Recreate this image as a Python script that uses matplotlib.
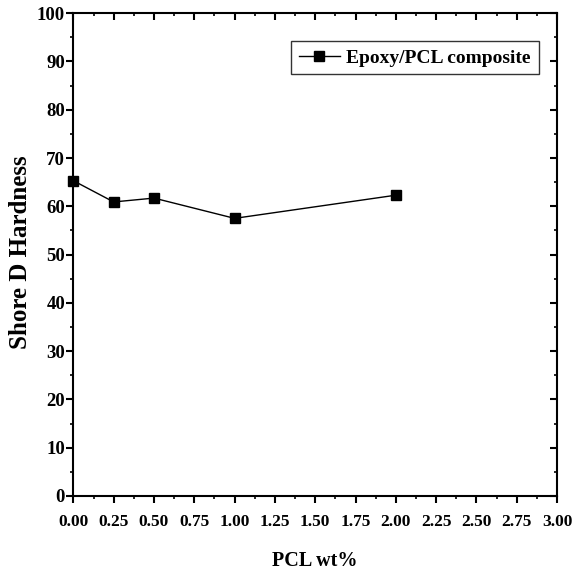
import matplotlib.pyplot as plt
from matplotlib.ticker import MultipleLocator

plt.rcParams['font.family'] = ['Liberation Serif', 'DejaVu Serif']
plt.rcParams['font.weight'] = 'bold'

# PCL content (wt%) and Shore D hardness
pcl_wt = [0.0, 0.25, 0.5, 1.0, 2.0]
hardness = [65.3, 60.9, 61.7, 57.5, 62.3]

fig = plt.figure(figsize=(5.87, 5.74), dpi=100)
ax = fig.add_axes([0.125, 0.136, 0.824, 0.841])

ax.plot(pcl_wt, hardness, color='black', lw=1.0, marker='s', ms=6.5,
        mfc='black', mec='black', label='Epoxy/PCL composite', clip_on=False)

ax.set_xlim(0, 3.0)
ax.set_ylim(0, 100)
ax.xaxis.set_major_locator(MultipleLocator(0.25))
ax.xaxis.set_minor_locator(MultipleLocator(0.125))
ax.yaxis.set_major_locator(MultipleLocator(10))
ax.yaxis.set_minor_locator(MultipleLocator(5))
ax.xaxis.set_major_formatter(plt.FormatStrFormatter('%.2f'))

for s in ax.spines.values():
    s.set_linewidth(1.5)

ax.tick_params(which='both', top=True, right=True, labeltop=False, labelright=False)
ax.tick_params(which='both', direction='out')
ax.tick_params(which='major', length=5, width=1.5, labelsize=12.5)
ax.tick_params(axis='y', which='major', labelsize=13.5, pad=1)
ax.tick_params(which='minor', length=2.5, width=1.2)
ax.tick_params(axis='x', which='major', pad=8)
# top and right ticks point inward
for t in ax.xaxis.get_major_ticks() + ax.xaxis.get_minor_ticks():
    t.tick2line.set_marker(3)
for t in ax.yaxis.get_major_ticks() + ax.yaxis.get_minor_ticks():
    t.tick2line.set_marker(0)

for lab in ax.get_xticklabels() + ax.get_yticklabels():
    lab.set_fontweight('bold')

ax.set_xlabel('PCL wt%', fontsize=14.5, fontweight='bold')
ax.set_ylabel('Shore D Hardness', fontsize=18, fontweight='bold')
ax.xaxis.set_label_coords(0.5, -0.115)
ax.yaxis.set_label_coords(-0.086, 0.504)

leg = ax.legend(loc='upper right', bbox_to_anchor=(0.962, 0.942), fontsize=14,
                frameon=True, fancybox=False, edgecolor='black', handlelength=2.1,
                borderpad=0.4, handletextpad=0.35, borderaxespad=0)
leg.get_frame().set_linewidth(1.0)
for t in leg.get_texts():
    t.set_fontweight('bold')

fig.savefig('out.png', dpi=100)
